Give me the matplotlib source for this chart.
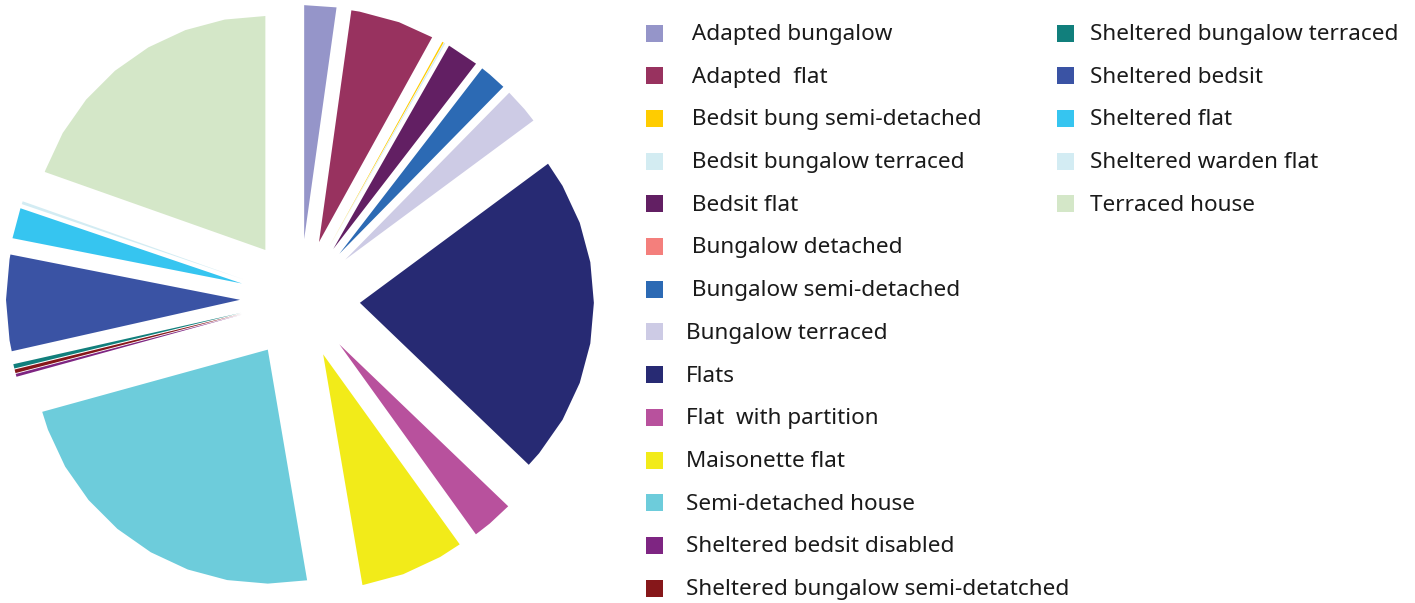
import numpy as np
import matplotlib
matplotlib.use('Agg')
import matplotlib.pyplot as plt
from matplotlib.patches import Polygon, Rectangle

# share of stock by property type (%)
labels = [' Adapted bungalow', ' Adapted  flat', ' Bedsit bung semi-detached',
          ' Bedsit bungalow terraced', ' Bedsit flat', ' Bungalow detached',
          ' Bungalow semi-detached', 'Bungalow terraced', 'Flats',
          'Flat  with partition', 'Maisonette flat', 'Semi-detached house',
          'Sheltered bedsit disabled', 'Sheltered bungalow semi-detatched',
          'Sheltered bungalow terraced', 'Sheltered bedsit', 'Sheltered flat',
          'Sheltered warden flat', 'Terraced house']
shares = [2.2, 5.8, 0.1, 0.1, 2.2, 0.0, 1.9, 2.5, 22.2, 2.9, 7.2, 23.3,
          0.2, 0.25, 0.3, 6.6, 2.1, 0.2, 19.5]
colors = ['#9595c9', '#98325f', '#ffcc00', '#d3ecf2', '#621f63', '#f47f7c',
          '#2c6ab4', '#cdcbe5', '#272a73', '#b8519d', '#f2eb19', '#6dccdb',
          '#7e2582', '#86171a', '#117f7c', '#3a53a4', '#36c5f0', '#d3ecf3',
          '#d4e7c8']

W, H = 1415, 603
fig = plt.figure(figsize=(W / 100, H / 100), dpi=100)
ax = fig.add_axes([0, 0, 1, 1])

# work in pixel units, y measured up from the bottom
wedges, _ = ax.pie(shares, colors=colors, startangle=90, counterclock=False,
                   radius=234, center=(300, H - 299), explode=[60] * len(shares),
                   wedgeprops=dict(linewidth=0))

# redraw each wedge as a coarse polygon (10 degree steps on the arc)
for w in wedges:
    cx, cy = w.center
    t1, t2 = w.theta1, w.theta2
    inner = [a for a in np.arange(np.ceil(t1 / 10) * 10, t2, 10) if a > t1]
    angs = np.radians([t1] + inner + [t2])
    pts = [(cx, cy)] + [(cx + w.r * np.cos(a), cy + w.r * np.sin(a)) for a in angs]
    ax.add_patch(Polygon(pts, closed=True, facecolor=w.get_facecolor(),
                         edgecolor='none', linewidth=0))
    w.remove()

# legend, two columns
sq = 17
row_h = 42.7
for i, (lab, col) in enumerate(zip(labels, colors)):
    if i < 14:
        x0, yc, tx = 646, 33 + i * row_h, 40
    else:
        x0, yc, tx = 1057, 33 + (i - 14) * row_h, 33
    ax.add_patch(Rectangle((x0, H - yc - sq / 2), sq, sq, facecolor=col,
                           edgecolor='none'))
    ax.text(x0 + tx, H - yc - 7, lab, fontsize=16.2, family='Noto Sans',
            color='#1a1a1a', ha='left', va='baseline')

ax.set_xlim(0, W)
ax.set_ylim(0, H)
ax.set_aspect('auto')
ax.axis('off')

plt.savefig('out.png', dpi=100)
